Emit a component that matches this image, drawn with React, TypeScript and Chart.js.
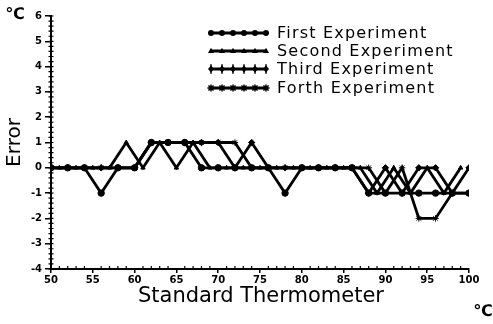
import React, { useEffect, useRef } from "react";
import { Chart, registerables } from "chart.js";

Chart.register(...registerables);

// ---- data ----
const X_EVEN = [50, 52, 54, 56, 58, 60, 62, 64, 66, 68, 70, 72, 74, 76, 78, 80, 82, 84, 86, 88, 90, 92, 94, 96, 98, 100];
const X_ODD = [51, 53, 55, 57, 59, 61, 63, 65, 67, 69, 71, 73, 75, 77, 79, 81, 83, 85, 87, 89, 91, 93, 95, 97, 99];

const FIRST = [0, 0, 0, -1, 0, 0, 1, 1, 1, 0, 0, 0, 0, 0, -1, 0, 0, 0, 0, -1, -1, -1, -1, -1, -1, -1];
const SECOND = [0, 0, 0, 0, 1, 0, 1, 0, 1, 0, 0, 0, 0, 0, 0, 0, 0, 0, 0, -1, 0, -1, 0, -1, 0];
const THIRD = [0, 0, 0, 0, 0, 0, 1, 1, 1, 1, 1, 0, 1, 0, 0, 0, 0, 0, 0, -1, 0, -1, 0, 0, -1, 0];
const FORTH = [0, 0, 0, 0, 0, 0, 1, 1, 1, 1, 1, 1, 0, 0, 0, 0, 0, 0, 0, 0, -1, 0, -2, -2, -1, -1];

const SERIES_NAMES = ["First Experiment", "Second Experiment", "Third Experiment", "Forth Experiment"];
const X_TICKS = [50, 55, 60, 65, 70, 75, 80, 85, 90, 95, 100];
const Y_TICKS = [-4, -3, -2, -1, 0, 1, 2, 3, 4, 5, 6];
const X_TITLE = "Standard Thermometer";
const Y_TITLE = "Error";
const UNIT = "\u2103";

const FONT = "'DejaVu Sans', sans-serif";

function drawMarker(ctx: CanvasRenderingContext2D, style: string, x: number, y: number, r: number) {
  ctx.beginPath();
  if (style === "circle") {
    ctx.arc(x, y, r, 0, Math.PI * 2);
    ctx.fill();
  } else if (style === "triangle") {
    ctx.moveTo(x, y - r * 1.1);
    ctx.lineTo(x + r, y + r * 0.7);
    ctx.lineTo(x - r, y + r * 0.7);
    ctx.closePath();
    ctx.fill();
  } else if (style === "rectRot") {
    ctx.moveTo(x, y - r * 1.2);
    ctx.lineTo(x + r, y);
    ctx.lineTo(x, y + r * 1.2);
    ctx.lineTo(x - r, y);
    ctx.closePath();
    ctx.fill();
    ctx.beginPath();
    ctx.moveTo(x, y - r * 1.6);
    ctx.lineTo(x, y + r * 1.6);
    ctx.stroke();
  } else {
    for (let k = 0; k < 4; k++) {
      const a = (k * Math.PI) / 4;
      ctx.moveTo(x - Math.cos(a) * r * 1.2, y - Math.sin(a) * r * 1.2);
      ctx.lineTo(x + Math.cos(a) * r * 1.2, y + Math.sin(a) * r * 1.2);
    }
    ctx.stroke();
    ctx.beginPath();
    ctx.arc(x, y, r * 0.7, 0, Math.PI * 2);
    ctx.fill();
  }
}

const decorPlugin = {
  id: "decor",
  afterDraw(chart: any) {
    const ctx: CanvasRenderingContext2D = chart.ctx;
    const xs = chart.scales.x;
    const ys = chart.scales.y;
    const area = chart.chartArea;
    ctx.save();
    ctx.strokeStyle = "#000";
    ctx.fillStyle = "#000";
    // minor ticks x
    ctx.lineWidth = 1.2;
    ctx.beginPath();
    for (let v = xs.min; v <= xs.max; v += 1) {
      if (v % 5 === 0) continue;
      const px = xs.getPixelForValue(v);
      ctx.moveTo(px, area.bottom);
      ctx.lineTo(px, area.bottom - 3);
    }
    // minor ticks y
    for (let i = 0; i <= (ys.max - ys.min) * 5; i++) {
      const v = ys.min + i * 0.2;
      const py = ys.getPixelForValue(v);
      ctx.moveTo(area.left - 2.5, py);
      ctx.lineTo(area.left + 2.5, py);
    }
    ctx.stroke();

    // titles
    ctx.textAlign = "center";
    ctx.textBaseline = "middle";
    ctx.font = `21px ${FONT}`;
    ctx.fillText(X_TITLE, 261, 297);
    ctx.save();
    ctx.translate(15, (area.top + area.bottom) / 2);
    ctx.rotate(-Math.PI / 2);
    ctx.font = `20px ${FONT}`;
    ctx.fillText(Y_TITLE, 0, 0);
    ctx.restore();
    ctx.font = `bold 16px ${FONT}`;
    ctx.fillText(UNIT, 15, 15);
    ctx.fillText(UNIT, 483, 312);

    // legend
    const rowY = [33, 51, 69, 88];
    chart.data.datasets.forEach((ds: any, i: number) => {
      const y = rowY[i];
      ctx.lineWidth = 2.8;
      ctx.beginPath();
      ctx.moveTo(210, y);
      ctx.lineTo(267, y);
      ctx.stroke();
      ctx.lineWidth = 1.5;
      for (let k = 0; k < 6; k++) {
        drawMarker(ctx, ds.pointStyle, 211 + k * 11, y, 3);
      }
      ctx.textAlign = "left";
      ctx.font = `16px ${FONT}`;
      (ctx as any).letterSpacing = "1.2px";
      ctx.fillText(ds.label, 277, y + 1);
      (ctx as any).letterSpacing = "0px";
    });
    ctx.restore();
  },
};

export default function App() {
  const ref = useRef<HTMLCanvasElement | null>(null);
  useEffect(() => {
    if (!ref.current) return;
    const mk = (xv: number[], yv: number[]) => xv.map((x, i) => ({ x, y: yv[i] }));
    const styles = ["circle", "triangle", "rectRot", "star"];
    const sets = [mk(X_EVEN, FIRST), mk(X_ODD, SECOND), mk(X_EVEN, THIRD), mk(X_EVEN, FORTH)];
    const chart = new Chart(ref.current, {
      type: "line",
      data: {
        datasets: sets.map((d, i) => ({
          label: SERIES_NAMES[i],
          data: d,
          borderColor: "#000",
          backgroundColor: "#000",
          borderWidth: 2.8,
          pointStyle: styles[i] as any,
          pointRadius: i === 1 ? 2.5 : 3.2,
          pointBackgroundColor: "#000",
          pointBorderColor: "#000",
          pointBorderWidth: 1,
          tension: 0,
          fill: false,
        })),
      },
      options: {
        animation: false,
        responsive: true,
        maintainAspectRatio: false,
        layout: { padding: { left: 0, right: 24, top: 16, bottom: 0 } },
        plugins: { legend: { display: false }, tooltip: { enabled: false } },
        scales: {
          x: {
            type: "linear",
            min: 50,
            max: 100,
            afterFit: (s: any) => { s.height = 55; },
            afterBuildTicks: (s: any) => { s.ticks = X_TICKS.map((v) => ({ value: v })); },
            ticks: { color: "#000", font: { family: FONT, size: 10, weight: "bold" }, padding: 1, maxRotation: 0 },
            grid: { drawOnChartArea: false, drawTicks: true, tickLength: 4, color: "#000", lineWidth: 1.5 },
            border: { color: "#000", width: 2 },
          },
          y: {
            type: "linear",
            min: -4,
            max: 6,
            afterFit: (s: any) => { s.width = 51; },
            afterBuildTicks: (s: any) => { s.ticks = Y_TICKS.map((v) => ({ value: v })); },
            ticks: { color: "#000", font: { family: FONT, size: 10, weight: "bold" }, padding: 3 },
            grid: { drawOnChartArea: false, drawTicks: true, tickLength: 6, color: "#000", lineWidth: 1.5 },
            border: { color: "#000", width: 2 },
          },
        },
      },
      plugins: [decorPlugin],
    });
    return () => chart.destroy();
  }, []);
  return (
    <div style={{ position: "absolute", left: 0, top: 0, width: 493, height: 324, background: "#fff" }}>
      <canvas ref={ref} />
    </div>
  );
}
